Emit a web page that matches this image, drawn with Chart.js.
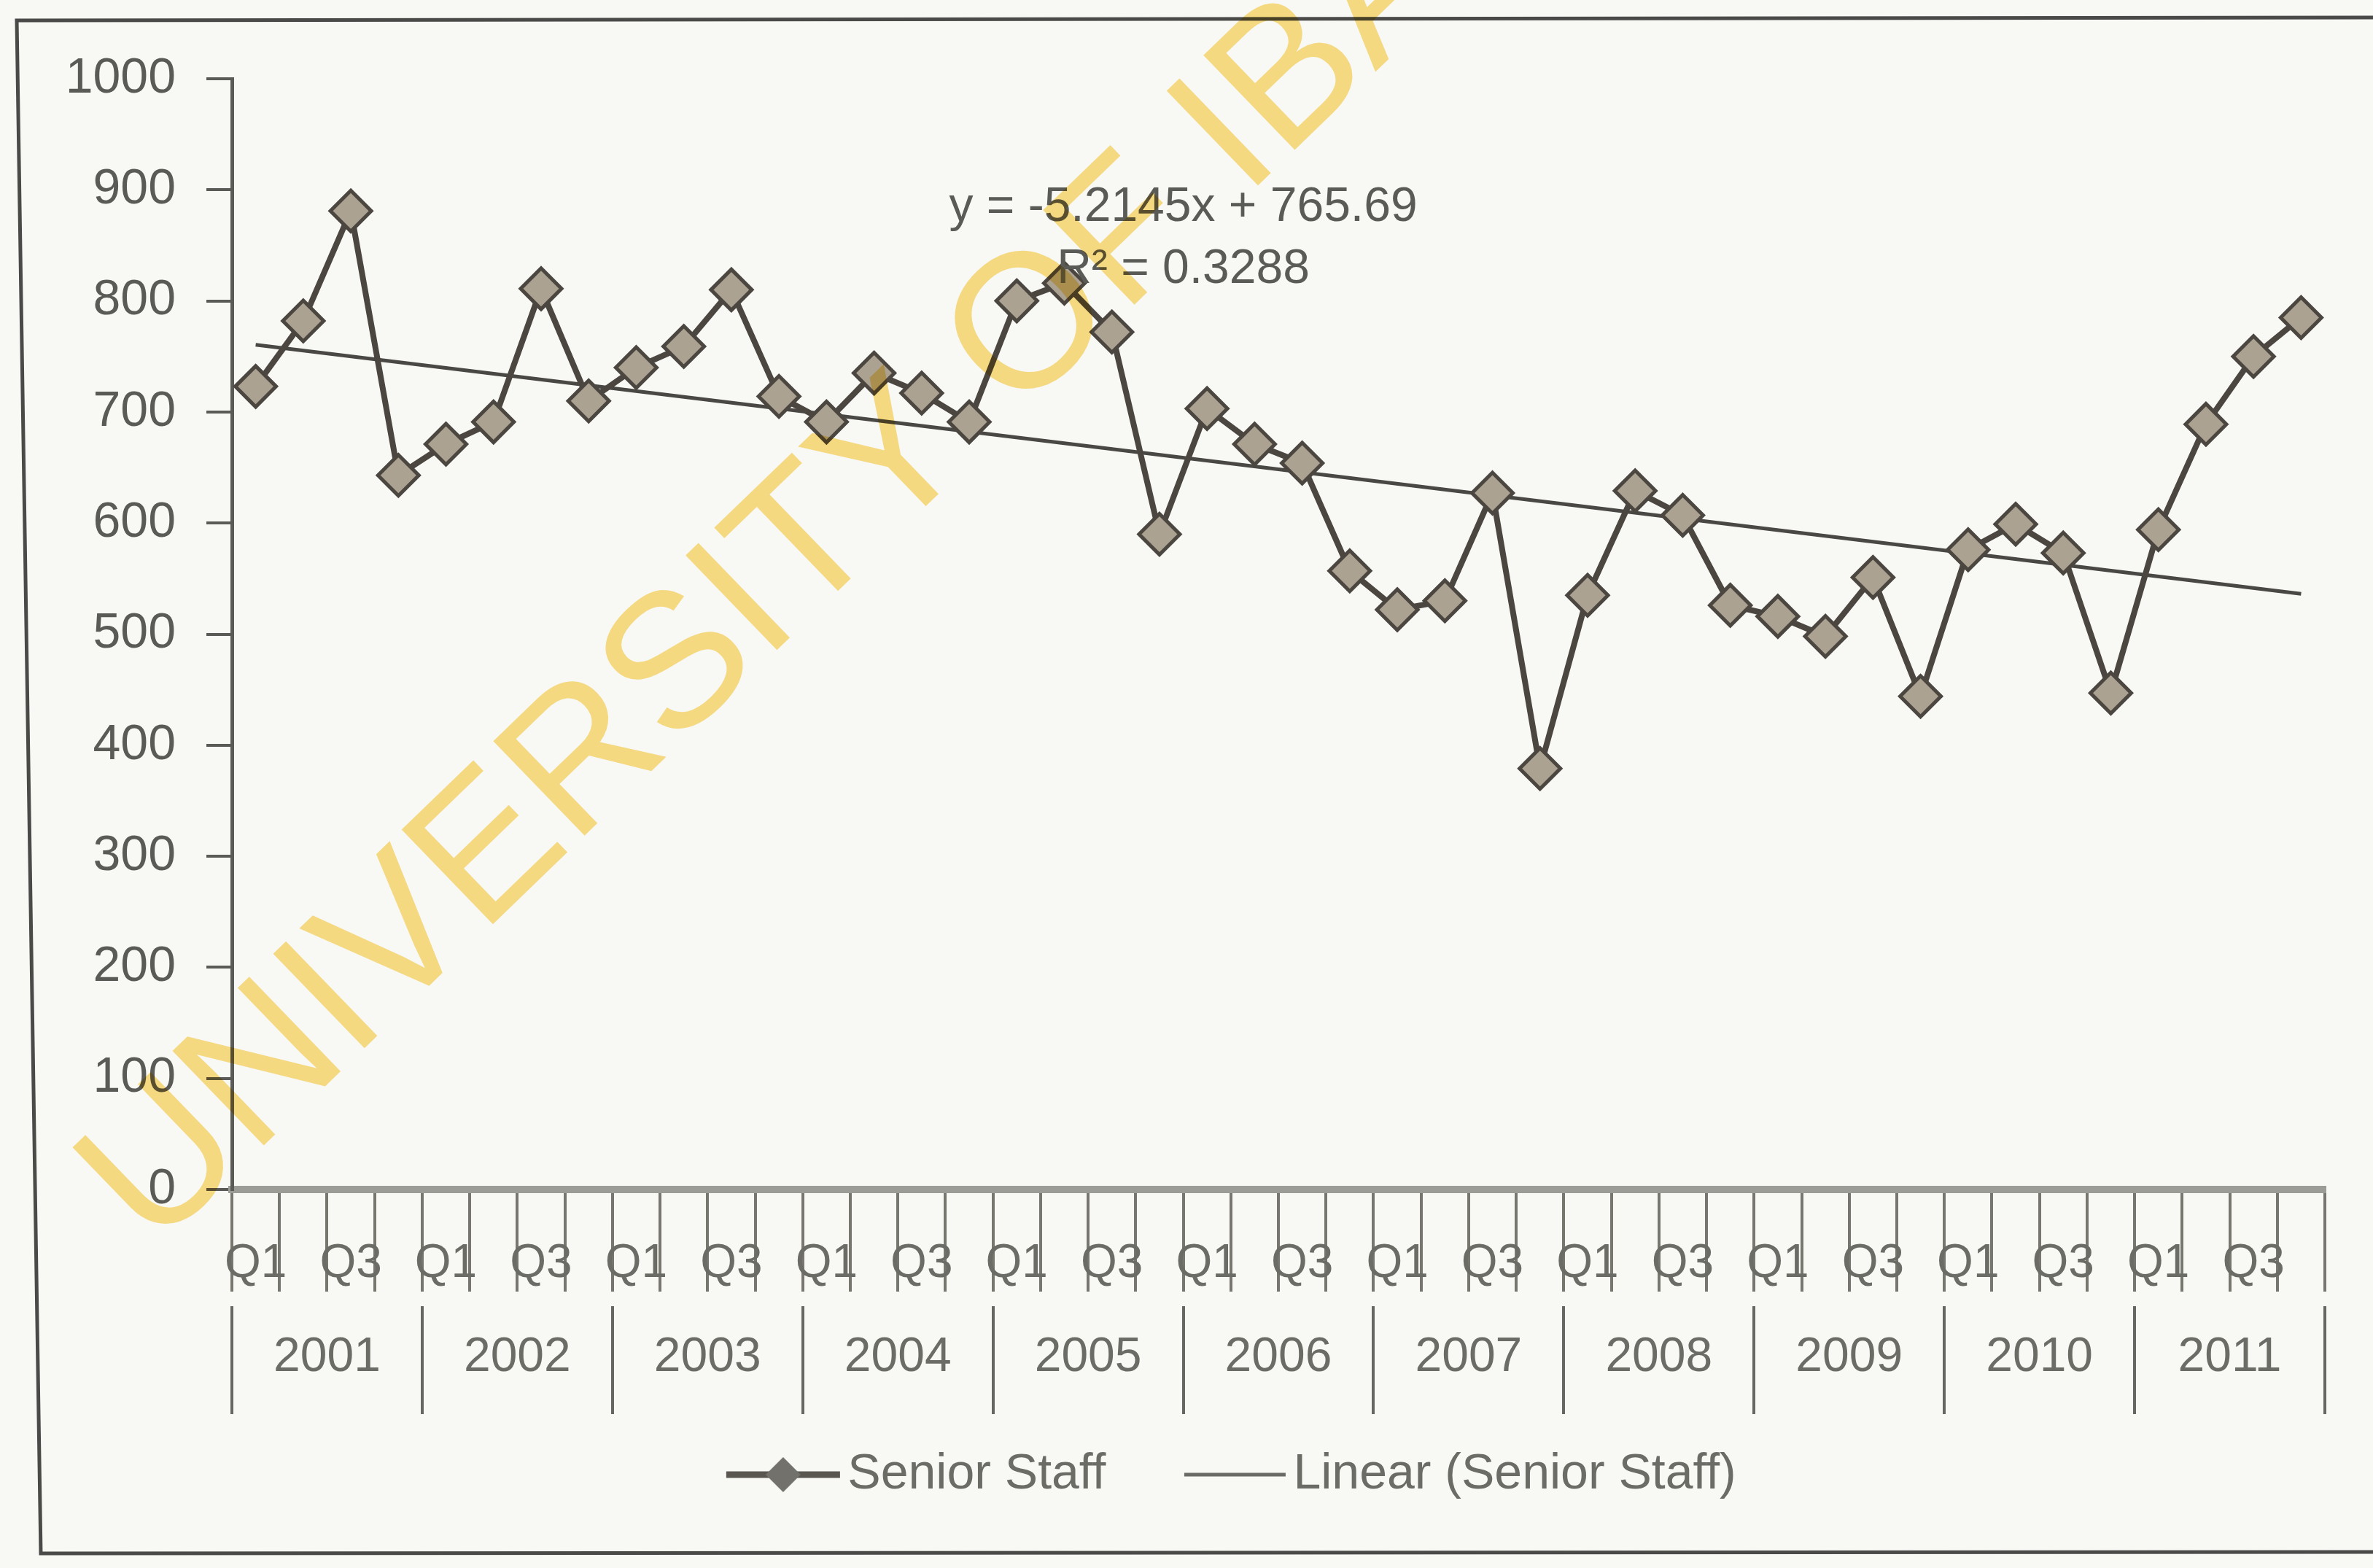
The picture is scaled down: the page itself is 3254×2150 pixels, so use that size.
<!DOCTYPE html>
<html>
<head>
<meta charset="utf-8">
<script src="https://cdn.jsdelivr.net/npm/chart.js@4.4.1/dist/chart.umd.min.js"></script>
<style>
  html, body { margin: 0; padding: 0; background: #f8f8f5; }
  #wrap { position: relative; width: 3254px; height: 2150px; }
</style>
</head>
<body>
<div id="wrap"><canvas id="chart" width="3254" height="2150"></canvas></div>
<script>
// Data
const years = ['2001', '2002', '2003', '2004', '2005', '2006', '2007', '2008', '2009', '2010', '2011'];
const quarters = ['Q1', 'Q2', 'Q3', 'Q4'];
const seniorStaff = [
  723, 782, 881, 643,   // 2001
  671, 691, 811, 710,   // 2002
  740, 759, 810, 714,   // 2003
  691, 735, 717, 691,   // 2004
  800, 816, 772, 590,   // 2005
  703, 671, 654, 557,   // 2006
  522, 530, 627, 379,   // 2007
  535, 629, 607, 526,   // 2008
  516, 498, 551, 444,   // 2009
  576, 599, 573, 447,   // 2010
  594, 689, 750, 785    // 2011
];
// trendline as printed on the chart
const trendSlope = -5.2145;
const trendIntercept = 765.69;
const trendR2 = 0.3288;
const yMin = 0, yMax = 1000, yStep = 100;

const FONT = '"Liberation Sans", Arial, sans-serif';
const TEXT = '#5a5a56';
const SOFT = '#6c6c67';
const LINE = '#4b4640';

const labels = years.flatMap(() => quarters);
const trendData = seniorStaff.map((v, i) =>
  (i === 0 || i === seniorStaff.length - 1) ? trendIntercept + trendSlope * (i + 1) : null);

// legend symbols (drawn wider than the legend box so they sit close to the text)
function legendIcon(withMarker) {
  const c = document.createElement('canvas');
  c.width = 320; c.height = 60;
  const g = c.getContext('2d');
  g.strokeStyle = withMarker ? '#5a5650' : '#6a6a66';
  g.lineWidth = withMarker ? 9 : 5;
  g.beginPath(); g.moveTo(withMarker ? 134 : 151, 30); g.lineTo(290, 30); g.stroke();
  if (withMarker) {
    g.fillStyle = '#72716b';
    g.beginPath();
    g.moveTo(212, 6); g.lineTo(236, 30); g.lineTo(212, 54); g.lineTo(188, 30); g.closePath();
    g.fill();
  }
  return c;
}

const framePlugin = {
  id: 'frame',
  beforeDraw(chart) {
    const ctx = chart.ctx;
    ctx.save();
    ctx.fillStyle = '#f8f8f5';
    ctx.fillRect(0, 0, chart.width, chart.height);
    ctx.strokeStyle = '#4a4a48';
    ctx.lineWidth = 5;
    ctx.beginPath();
    ctx.moveTo(3254, 24); ctx.lineTo(23, 28); ctx.lineTo(56, 2130); ctx.lineTo(3254, 2128);
    ctx.stroke();
    ctx.restore();
  }
};

const equationPlugin = {
  id: 'equation',
  afterDatasetsDraw(chart) {
    const ctx = chart.ctx;
    const x = chart.scales.x.getPixelForValue(19.5);
    const y = chart.scales.y;
    ctx.save();
    ctx.font = '66px ' + FONT;
    ctx.fillStyle = TEXT;
    ctx.textAlign = 'center';
    ctx.textBaseline = 'middle';
    ctx.fillText('y = ' + trendSlope + 'x + ' + trendIntercept, x, y.getPixelForValue(884));
    ctx.fillText('R\u00b2 = ' + trendR2, x, y.getPixelForValue(828));
    ctx.restore();
  }
};

const watermarkPlugin = {
  id: 'watermark',
  afterDraw(chart) {
    const ctx = chart.ctx;
    ctx.save();
    ctx.globalCompositeOperation = 'multiply';
    ctx.translate(160, 1665);
    ctx.rotate(-44 * Math.PI / 180);
    ctx.font = '262px ' + FONT;
    ctx.fillStyle = '#fcdf86';
    ctx.fillText('UNIVERSITY OF IBADAN', 0, 0);
    ctx.restore();
  }
};

new Chart(document.getElementById('chart'), {
  type: 'line',
  data: {
    labels: labels,
    datasets: [
      {
        label: 'Senior Staff',
        data: seniorStaff,
        borderColor: LINE,
        borderWidth: 8,
        pointStyle: 'rectRot',
        pointRadius: 28,
        pointBorderWidth: 5,
        pointBackgroundColor: '#aca292',
        pointBorderColor: LINE,
        tension: 0
      },
      {
        label: 'Linear (Senior Staff)',
        data: trendData,
        spanGaps: true,
        borderColor: '#4a4845',
        borderWidth: 5,
        pointRadius: 0
      }
    ]
  },
  options: {
    responsive: false,
    animation: false,
    devicePixelRatio: 1,
    layout: { padding: { top: 108, right: 28, bottom: 84, left: 70 } },
    plugins: {
      tooltip: { enabled: false },
      legend: {
        position: 'bottom',
        labels: {
          usePointStyle: true,
          pointStyleWidth: 213,
          padding: 10,
          color: SOFT,
          font: { size: 68, family: FONT },
          generateLabels: () => [
            { text: 'Senior Staff', pointStyle: legendIcon(true), fontColor: SOFT, datasetIndex: 0, hidden: false, lineWidth: 0 },
            { text: 'Linear (Senior Staff)', pointStyle: legendIcon(false), fontColor: SOFT, datasetIndex: 1, hidden: false, lineWidth: 0 }
          ]
        }
      }
    },
    scales: {
      x: {
        type: 'category',
        offset: true,
        grid: { offset: true, drawOnChartArea: false, tickLength: 140, color: '#77776f', lineWidth: 4 },
        border: { color: '#9c9c97', width: 10 },
        ticks: {
          autoSkip: false, maxRotation: 0, minRotation: 0, padding: -76,
          color: SOFT, font: { size: 64, family: FONT },
          callback: (v, i) => { const q = quarters[i % 4]; return (q === 'Q1' || q === 'Q3') ? q : ''; }
        },
        afterFit: s => { s.height = 160; }
      },
      x2: {
        type: 'category',
        position: 'bottom',
        labels: years,
        offset: true,
        grid: { offset: true, drawOnChartArea: false, tickLength: 148, color: '#666662', lineWidth: 4 },
        border: { display: false },
        ticks: { autoSkip: false, maxRotation: 0, padding: -117, color: SOFT, font: { size: 66, family: FONT } },
        afterFit: s => { s.height = 187; }
      },
      y: {
        min: yMin, max: yMax,
        ticks: { stepSize: yStep, padding: 42, color: TEXT, font: { size: 68, family: FONT }, callback: v => String(v) },
        grid: { drawOnChartArea: false, tickLength: 35, color: '#5a5a57', lineWidth: 4 },
        border: { color: '#5a5a57', width: 5 },
        afterFit: s => { s.width = 248; }
      },
      // empty right-hand spacer so the legend centres like the original
      ySpace: {
        position: 'right',
        grid: { display: false },
        border: { display: false },
        ticks: { display: false },
        afterFit: s => { s.width = 38; }
      }
    }
  },
  plugins: [framePlugin, equationPlugin, watermarkPlugin]
});
</script>
</body>
</html>
